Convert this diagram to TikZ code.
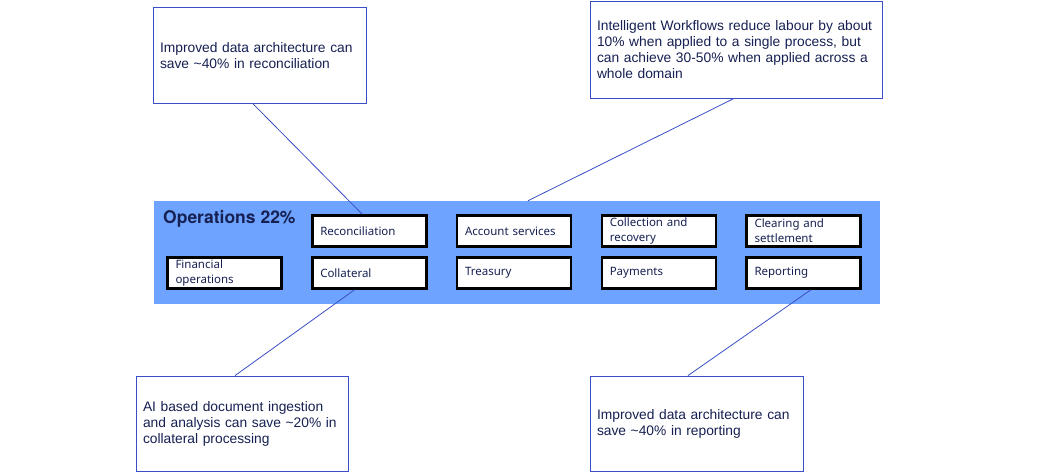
\documentclass[tikz,border=0pt]{standalone}
\usepackage{fontspec}
\setmainfont{Liberation Sans}
\newfontfamily\plex{Noto Sans}
\newfontfamily\plexbold{TeX Gyre Heros}
\usetikzlibrary{calc}
\definecolor{opsblue}{RGB}{110,164,255}
\definecolor{navy}{RGB}{22,32,82}
\definecolor{linkblue}{RGB}{58,78,198}
\tikzset{
	area/.style={draw=black, line width=2.5pt, fill=white, minimum width=114pt, minimum height=31pt,
		text width=98pt, inner xsep=8pt, inner ysep=0pt, align=left,
		font=\plex\fontsize{11.5}{15}\selectfont, text=navy},
	callout/.style={draw=linkblue, line width=0.8pt, fill=white, inner xsep=7pt, align=left,
		font=\fontsize{13.8}{16}\selectfont, text=navy},
	link/.style={draw=linkblue, line width=0.8pt}
}

\begin{document}
\begin{tikzpicture}[x=1pt, y=-1pt]
	\useasboundingbox (0,0) rectangle (1041,474);
	\node[fill=opsblue, minimum width=726pt, minimum height=103pt, inner sep=0pt] (ops) at (517,252.5) {};
	\node[anchor=base west, inner sep=0pt, text=navy, font=\plexbold\bfseries\fontsize{17.5}{20}\selectfont] (title) at (163,223) {Operations 22\%};
	\def \dx{144.75}
	\foreach \i/\n/\t in {1/recon/Reconciliation, 2/acct/Account services, 3/collect/{Collection and\\recovery}, 4/clear/{Clearing and\\settlement}}
	\node[area] (\n) at (224.5+\dx*\i, 231) {\t};
	\foreach \i/\n/\t in {0/fin/{Financial\\operations}, 1/coll/Collateral, 2/treas/Treasury, 3/pay/Payments, 4/rep/Reporting}
	\node[area] (\n) at (224.5+\dx*\i, 273) {\t};
	\node[callout, minimum width=213pt, minimum height=96pt, text width=199pt] (arch) at (259.5,55.5)
		{Improved data architecture can\\save \textasciitilde40\% in reconciliation};
	\node[callout, minimum width=292pt, minimum height=97pt, text width=278pt] (flows) at (736,50)
		{Intelligent Workflows reduce labour by about\\10\% when applied to a single process, but\\can achieve 30-50\% when applied across a\\whole domain};
	\node[callout, minimum width=212pt, minimum height=95pt, text width=198pt] (ingest) at (242,423.5)
		{AI based document ingestion\\and analysis can save \textasciitilde20\% in\\collateral processing};
	\node[callout, minimum width=213pt, minimum height=95pt, text width=199pt] (report) at (696.5,423.5)
		{Improved data architecture can\\save \textasciitilde40\% in reporting};
	\draw[link] ($(arch.south west)!0.47!(arch.south east)$) -- ($(recon.north west)!0.44!(recon.north east)$);
	\draw[link] ($(flows.south west)!0.49!(flows.south east)$) -- ($(ops.north west)!0.515!(ops.north east)$);
	\draw[link] ($(coll.south west)!0.374!(coll.south east)$) -- ($(ingest.north west)!0.467!(ingest.north east)$);
	\draw[link] ($(rep.south west)!0.564!(rep.south east)$) -- ($(report.north west)!0.46!(report.north east)$);
\end{tikzpicture}
\end{document}
